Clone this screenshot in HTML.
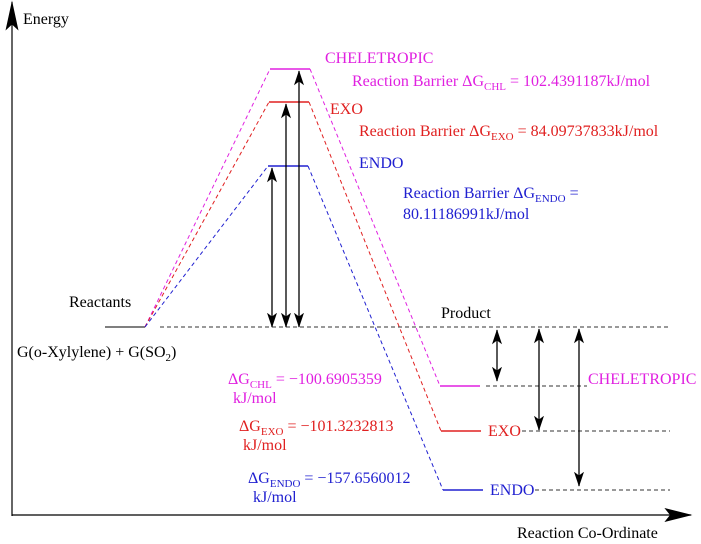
<!DOCTYPE html>
<html><head><meta charset="utf-8"><style>
html,body{margin:0;padding:0;background:#fff;}
svg, svg text{font-family:"Liberation Serif","Times New Roman","DejaVu Serif",serif;}
svg{display:block;}
</style></head><body>
<svg width="701" height="544" viewBox="0 0 701 544" xmlns="http://www.w3.org/2000/svg" font-family="Liberation Serif, Times New Roman, serif">
<defs>
<marker id="a" viewBox="0 0 10 10" refX="9.5" refY="5" markerWidth="15" markerHeight="10" markerUnits="userSpaceOnUse" orient="auto-start-reverse" preserveAspectRatio="none"><path d="M0,0 L10,5 L0,10 L2.5,5 z" fill="#000"/></marker>
<marker id="y" viewBox="0 0 10 10" refX="9.5" refY="5" markerWidth="30" markerHeight="13" markerUnits="userSpaceOnUse" orient="auto" preserveAspectRatio="none"><path d="M0,0 L10,5 L0,10 L2,5 z" fill="#000"/></marker>
<marker id="x" viewBox="0 0 10 10" refX="9.5" refY="5" markerWidth="28" markerHeight="14" markerUnits="userSpaceOnUse" orient="auto" preserveAspectRatio="none"><path d="M0,0 L10,5 L0,10 L2,5 z" fill="#000"/></marker>
</defs>
<line x1="12" y1="516" x2="12" y2="2" stroke="#000" stroke-width="1.2" marker-end="url(#y)"/>
<line x1="12" y1="515" x2="691" y2="515" stroke="#000" stroke-width="1.2" marker-end="url(#x)"/>
<g font-family="Liberation Serif, Times New Roman, serif">
<text x="23" y="24" font-size="16">Energy</text>
<text x="517" y="538" font-size="16">Reaction Co-Ordinate</text>
<text x="69" y="307" font-size="16">Reactants</text>
<text x="17" y="357" font-size="16">G(o-Xylylene) + G(SO<tspan font-size="11" dy="4">2</tspan><tspan dy="-4">)</tspan></text>
<text x="441" y="318" font-size="16">Product</text>
</g>
<line x1="105" y1="327" x2="145" y2="327" stroke="#555" stroke-width="1.5"/>
<line x1="160" y1="327" x2="670" y2="327" stroke="#333" stroke-dasharray="4,3"/>
<g stroke="#e020e0" fill="none">
<polyline points="145,327 270,69" stroke-dasharray="4,3"/>
<line x1="270" y1="69" x2="310" y2="69" stroke-width="1.5"/>
<polyline points="310,69 440,386" stroke-dasharray="4,3"/>
<line x1="440" y1="386" x2="480" y2="386" stroke-width="1.5"/>
</g>
<g stroke="#e02020" fill="none">
<polyline points="145,327 269,102" stroke-dasharray="4,3"/>
<line x1="269" y1="102" x2="309" y2="102" stroke-width="1.5"/>
<polyline points="309,102 441,431" stroke-dasharray="4,3"/>
<line x1="441" y1="431" x2="481" y2="431" stroke-width="1.5"/>
</g>
<g stroke="#2020d0" fill="none">
<polyline points="145,327 268,166" stroke-dasharray="4,3"/>
<line x1="268" y1="166" x2="308" y2="166" stroke-width="1.5"/>
<polyline points="308,166 443,490" stroke-dasharray="4,3"/>
<line x1="443" y1="490" x2="483" y2="490" stroke-width="1.5"/>
</g>
<g stroke="#333" stroke-dasharray="4,3">
<line x1="486" y1="386" x2="587" y2="386"/>
<line x1="522" y1="431" x2="670" y2="431"/>
<line x1="535" y1="490" x2="670" y2="490"/>
</g>
<g stroke="#000" stroke-width="1.3" marker-start="url(#a)" marker-end="url(#a)">
<line x1="272" y1="168" x2="272" y2="327"/>
<line x1="286" y1="104" x2="286" y2="327"/>
<line x1="299" y1="71" x2="299" y2="327"/>
<line x1="497" y1="330" x2="497" y2="381"/>
<line x1="539" y1="329" x2="539" y2="430"/>
<line x1="579" y1="329" x2="579" y2="486"/>
</g>
<g font-size="16" font-family="Liberation Serif, Times New Roman, serif">
<text x="325" y="63" fill="#e020e0">CHELETROPIC</text>
<text x="352" y="86" fill="#e020e0">Reaction Barrier ΔG<tspan font-size="11" dy="4">CHL</tspan><tspan dy="-4"> = 102.4391187kJ/mol</tspan></text>
<text x="330" y="114" fill="#e02020">EXO</text>
<text x="359" y="136" fill="#e02020">Reaction Barrier ΔG<tspan font-size="11" dy="4">EXO</tspan><tspan dy="-4"> = 84.09737833kJ/mol</tspan></text>
<text x="359" y="168" fill="#2020d0">ENDO</text>
<text x="403" y="198" fill="#2020d0">Reaction Barrier ΔG<tspan font-size="11" dy="4">ENDO</tspan><tspan dy="-4"> =</tspan></text>
<text x="403" y="219" fill="#2020d0">80.11186991kJ/mol</text>
<text x="588" y="384" fill="#e020e0">CHELETROPIC</text>
<text x="488" y="436" fill="#e02020">EXO</text>
<text x="490" y="495" fill="#2020d0">ENDO</text>
<text x="228" y="384" fill="#e020e0">ΔG<tspan font-size="11" dy="4">CHL</tspan><tspan dy="-4"> = −100.6905359</tspan></text>
<text x="233" y="403" fill="#e020e0">kJ/mol</text>
<text x="239" y="431" fill="#e02020">ΔG<tspan font-size="11" dy="4">EXO</tspan><tspan dy="-4"> = −101.3232813</tspan></text>
<text x="243" y="450" fill="#e02020">kJ/mol</text>
<text x="248" y="483" fill="#2020d0">ΔG<tspan font-size="11" dy="4">ENDO</tspan><tspan dy="-4"> = −157.6560012</tspan></text>
<text x="253" y="502" fill="#2020d0">kJ/mol</text>
</g>
</svg>
</body></html>
